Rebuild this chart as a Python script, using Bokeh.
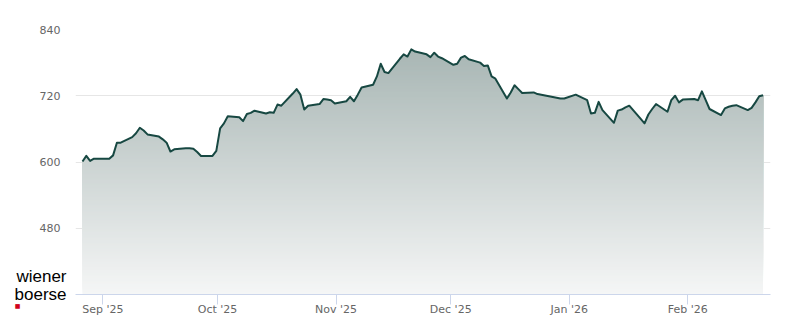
import numpy as np
import pandas as pd
from bokeh.plotting import figure
from bokeh.models import (FixedTicker, MonthsTicker, DatetimeTickFormatter, Range1d,
                          LinearAxis)
from bokeh.embed import file_html
from bokeh.resources import INLINE

# ---- data (daily closes) ----
dates = [
    "2025-08-26", "2025-08-27", "2025-08-28", "2025-08-29", "2025-09-01", "2025-09-02",
    "2025-09-03", "2025-09-04", "2025-09-05", "2025-09-08", "2025-09-09", "2025-09-10",
    "2025-09-11", "2025-09-12", "2025-09-15", "2025-09-16", "2025-09-17", "2025-09-18",
    "2025-09-19", "2025-09-22", "2025-09-23", "2025-09-24", "2025-09-25", "2025-09-26",
    "2025-09-29", "2025-09-30", "2025-10-01", "2025-10-02", "2025-10-03", "2025-10-06",
    "2025-10-07", "2025-10-08", "2025-10-09", "2025-10-10", "2025-10-13", "2025-10-14",
    "2025-10-15", "2025-10-16", "2025-10-17", "2025-10-20", "2025-10-21", "2025-10-22",
    "2025-10-23", "2025-10-24", "2025-10-27", "2025-10-28", "2025-10-29", "2025-10-30",
    "2025-10-31", "2025-11-03", "2025-11-04", "2025-11-05", "2025-11-06", "2025-11-07",
    "2025-11-10", "2025-11-11", "2025-11-12", "2025-11-13", "2025-11-14", "2025-11-17",
    "2025-11-18", "2025-11-19", "2025-11-20", "2025-11-21", "2025-11-24", "2025-11-25",
    "2025-11-26", "2025-11-27", "2025-11-28", "2025-12-01", "2025-12-02", "2025-12-03",
    "2025-12-04", "2025-12-05", "2025-12-08", "2025-12-09", "2025-12-10", "2025-12-11",
    "2025-12-12", "2025-12-15", "2025-12-16", "2025-12-17", "2025-12-18", "2025-12-19",
    "2025-12-22", "2025-12-23", "2025-12-29", "2025-12-30", "2026-01-02", "2026-01-05",
    "2026-01-06", "2026-01-07", "2026-01-08", "2026-01-09", "2026-01-12", "2026-01-13",
    "2026-01-14", "2026-01-15", "2026-01-16", "2026-01-19", "2026-01-20", "2026-01-21",
    "2026-01-22", "2026-01-23", "2026-01-26", "2026-01-27", "2026-01-28", "2026-01-29",
    "2026-01-30", "2026-02-02", "2026-02-03", "2026-02-04", "2026-02-05", "2026-02-06",
    "2026-02-09", "2026-02-10", "2026-02-11", "2026-02-12", "2026-02-13", "2026-02-16",
    "2026-02-17", "2026-02-18", "2026-02-19", "2026-02-20",
]
values = [
    601, 611, 602, 606, 606, 606,
    612, 635, 635, 645, 652, 662,
    657, 650, 646, 641, 635, 619,
    623, 625, 625, 624, 618, 611,
    611, 620, 661, 670, 683, 681,
    674, 687, 689, 693, 688, 690,
    689, 704, 702, 724, 732, 722,
    695, 702, 705, 714, 713, 712,
    706, 710, 718, 710, 722, 735,
    740, 755, 778, 763, 761, 787,
    795, 791, 804, 800, 795, 790,
    798, 791, 788, 776, 778, 789,
    792, 786, 780, 774, 775, 755,
    751, 715, 726, 739, 732, 725,
    726, 723, 715, 715, 722, 712,
    688, 689, 709, 694, 671, 693,
    695, 699, 702, 678, 670, 686,
    696, 705, 691, 712, 720, 708,
    713, 714, 712, 728, 712, 696,
    685, 697, 700, 702, 703, 694,
    698, 708, 719, 721,
]
y_ticks = [480, 600, 720, 840]
y_min, y_max = 360, 840
logo_text = "wiener\nboerse"

# closing time of each trading day (UTC)
t = pd.to_datetime(dates) + pd.Timedelta(hours=16, minutes=30)
x = (t.astype("int64") // 10**6).to_numpy().astype(float)
v = np.asarray(values, dtype=float)


def ms(s):
    return pd.Timestamp(s).value / 10**6


W, H = 800, 324
B_LEFT, B_RIGHT, B_TOP, B_BOTTOM = 75, 30, 29, 30
x0, x1 = ms("2025-08-24 20:38"), ms("2026-02-22 15:08")
p = figure(width=W, height=H, output_backend="svg", toolbar_location=None,
           x_axis_type="datetime",
           x_range=Range1d(x0, x1),
           y_range=Range1d(y_min, y_max),
           min_border_left=B_LEFT, min_border_right=B_RIGHT, min_border_top=B_TOP,
           min_border_bottom=B_BOTTOM)
p.outline_line_color = None
p.background_fill_color = "white"
p.border_fill_color = "white"

# ---- vertical gradient under the line: opaque layers, each from its level up to the line ----
top_rgb = np.array([168, 182, 180], dtype=float)   # colour at the highest close
bot_rgb = np.array([245, 246, 246], dtype=float)   # colour at the baseline
top_val = v.max()
frame_h = H - B_TOP - B_BOTTOM
step = 2 * (y_max - y_min) / frame_h
levels = np.arange(y_min, top_val, step)


def clip_above(xs, ys, lo):
    ox, oy = [], []
    for i in range(len(xs)):
        if i > 0 and (ys[i - 1] - lo) * (ys[i] - lo) < 0:
            f = (lo - ys[i - 1]) / (ys[i] - ys[i - 1])
            ox.append(xs[i - 1] + f * (xs[i] - xs[i - 1]))
            oy.append(lo)
        ox.append(xs[i])
        oy.append(max(ys[i], lo))
    return np.array(ox), np.array(oy)


for lo in levels:
    f = (lo + step / 2 - y_min) / (top_val - y_min)
    f = min(max(f, 0.0), 1.0)
    rgb = bot_rgb + (top_rgb - bot_rgb) * f
    col = "#%02x%02x%02x" % tuple(int(round(c)) for c in rgb)
    cx, cy = clip_above(x, v, lo)
    p.varea(x=cx, y1=np.full(len(cx), lo), y2=cy, fill_color=col, fill_alpha=1)

p.line(x, v, line_color="#174842", line_width=2, line_join="round")

# ---- axes ----
yax = p.yaxis[0]
yax.ticker = FixedTicker(ticks=y_ticks)
yax.axis_line_color = None
yax.major_tick_line_color = None
yax.minor_tick_line_color = None
yax.major_tick_out = 0
yax.major_tick_in = 0
yax.major_label_standoff = 15
yax.major_label_text_color = "#666666"
yax.major_label_text_font = "DejaVu Sans"
yax.major_label_text_font_size = "11px"

# logo "wiener boerse" as the horizontal, bottom-aligned label of the value axis
yax.axis_label = logo_text + "\n\u00a0"
yax.axis_label_orientation = "horizontal"
yax.axis_label_align = "start"
yax.axis_label_standoff = -30
yax.axis_label_text_font = "Liberation Sans"
yax.axis_label_text_font_size = "17px"
yax.axis_label_text_font_style = "normal"
yax.axis_label_text_color = "black"
yax.axis_label_text_line_height = 0.94

# red square of the logo
mark = LinearAxis(ticker=FixedTicker(ticks=[]), axis_line_color=None,
                  major_tick_line_color=None, minor_tick_line_color=None,
                  major_tick_out=0, major_tick_in=0, major_label_standoff=0,
                  major_label_text_font_size="0px",
                  axis_label="\u00a0\n\u00a0\n\u25a0", axis_label_orientation="horizontal",
                  axis_label_align="start", axis_label_standoff=-9,
                  axis_label_text_font="DejaVu Sans", axis_label_text_font_size="6px",
                  axis_label_text_font_style="normal", axis_label_text_color="#d0021b",
                  axis_label_text_line_height=1.55)
p.add_layout(mark, "left")

xax = p.xaxis[0]
xax.ticker = MonthsTicker(months=list(range(12)))
xax.formatter = DatetimeTickFormatter(months="%b '%y", days="%b '%y")
xax.axis_line_color = "#ccd6eb"
xax.major_tick_line_color = "#ccd6eb"
xax.minor_tick_line_color = None
xax.major_tick_out = 10
xax.major_tick_in = 0
xax.major_label_standoff = -2
xax.major_label_text_color = "#666666"
xax.major_label_text_font = "DejaVu Sans"
xax.major_label_text_font_size = "11px"

p.xgrid.grid_line_color = None
p.ygrid.grid_line_color = "#e6e6e6"

open("out.html", "w").write(file_html(p, INLINE))
